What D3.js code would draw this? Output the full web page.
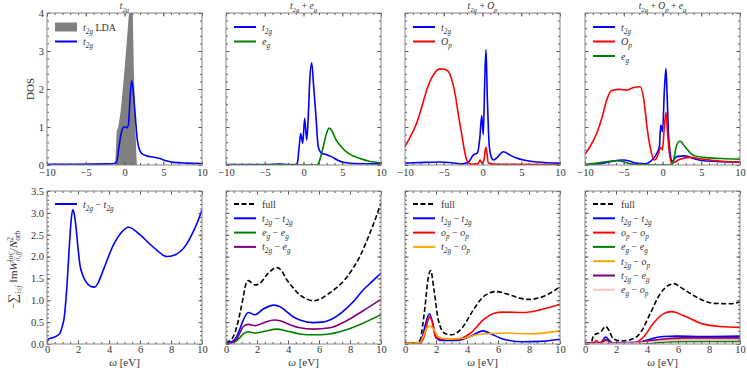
<!DOCTYPE html>
<html>
<head>
<meta charset="utf-8">
<script src="https://cdn.jsdelivr.net/npm/d3@7"></script>
<style>
  body { margin: 0; background: #fff; }
  svg, text { font-family: "Liberation Serif", "DejaVu Serif", serif; }
  text { fill: #333; white-space: pre; }
</style>
</head>
<body>
<div id="chart"></div>
<script>
// ---- data ----
const dosXTicks = [-10, -5, 0, 5, 10];
const dosYTicks = [0, 1, 2, 3, 4];
const wXTicks = [0, 2, 4, 6, 8, 10];
const wYTicks = [0, 0.5, 1, 1.5, 2, 2.5, 3, 3.5];

const topTitles = ["t_{2g}", "t_{2g} + e_{g}", "t_{2g} + O_{p}", "t_{2g} + O_{p} + e_{g}"];

// DOS panels [omega, dos]
const ldaT2g = [[-1.2,0],[-1.1,0.5],[-1.0,0.9],[-0.8,1.0],[-0.5,1.4],[-0.15,2.15],[0.2,3.0],[0.58,4.0],[0.75,4.6],[0.9,4.5],[1.06,4.0],[1.2,2.6],[1.4,1.0],[1.55,0.2],[1.6,0]];
const dos1T2g = [[-10,0.02],[-6,0.02],[-2,0.03],[-1.3,0.04],[-1.0,0.1],[-0.7,0.5],[-0.4,0.85],[-0.15,1.0],[0.1,1.0],[0.3,0.98],[0.5,1.05],[0.7,1.7],[0.93,2.22],[1.15,1.9],[1.35,1.4],[1.65,0.66],[1.9,0.42],[2.2,0.31],[2.86,0.24],[3.7,0.21],[4.58,0.17],[5.4,0.11],[6.3,0.07],[8,0.05],[10,0.04]];

const dos2T2g = [[-10,0.01],[-5,0.01],[-3.5,0.02],[-3,0.025],[-2,0.01],[-1,0.01],[-0.8,0.05],[-0.55,0.5],[-0.36,0.83],[-0.1,0.57],[0.15,1.23],[0.41,0.66],[0.6,1.2],[0.8,2.2],[1.06,2.69],[1.3,2.1],[1.61,1.27],[1.9,0.48],[2.35,0.31],[3.0,0.27],[3.6,0.22],[4.3,0.14],[5.1,0.07],[6.5,0.04],[10,0.03]];
const dos2Eg = [[-10,0],[1.7,0],[1.9,0.03],[2.2,0.2],[2.55,0.48],[2.9,0.78],[3.3,0.97],[3.6,0.92],[4.2,0.66],[4.8,0.5],[5.5,0.35],[6.3,0.25],[7.2,0.18],[8.5,0.1],[10,0.06]];

const dos3T2g = [[-10,0.05],[-7.5,0.07],[-5.5,0.08],[-4,0.06],[-2.6,0.03],[-1.8,0.08],[-1.2,0.26],[-0.65,0.32],[-0.35,0.7],[-0.1,1.3],[0.1,0.8],[0.3,2.3],[0.45,3.03],[0.62,1.8],[0.88,0.48],[1.15,0.2],[1.4,0.13],[1.9,0.2],[2.7,0.35],[3.55,0.26],[4.3,0.19],[5.3,0.13],[7,0.08],[10,0.05]];
const dos3Op = [[-10,0.48],[-9.3,0.75],[-8.5,1.1],[-7.8,1.55],[-7.2,1.97],[-6.4,2.35],[-5.5,2.53],[-4.9,2.52],[-4.4,2.46],[-3.9,2.2],[-3.55,1.89],[-3.1,1.3],[-2.7,0.83],[-2.3,0.35],[-2.04,0.13],[-1.7,0.04],[-1.4,0.02],[-0.6,0.03],[-0.3,0.13],[-0.1,0.05],[0.15,0.1],[0.45,0.47],[0.75,0.06],[1.2,0.03],[1.8,0.02],[10,0.01]];

const dos4T2g = [[-10,0.01],[-7.8,0.04],[-6.5,0.1],[-5.05,0.13],[-4.2,0.1],[-3.5,0.05],[-2.2,0.03],[-1.5,0.1],[-1,0.22],[-0.4,0.48],[-0.23,1.05],[0.0,0.88],[0.25,2.0],[0.45,2.54],[0.6,1.8],[0.77,0.83],[1.0,0.3],[1.2,0.09],[1.5,0.15],[1.85,0.22],[2.9,0.24],[4,0.17],[5.3,0.11],[7.5,0.09],[10,0.08]];
const dos4Op = [[-10,0.28],[-9.3,0.5],[-8.5,0.83],[-7.8,1.25],[-7.2,1.71],[-6.55,1.96],[-5.5,1.99],[-4.6,1.97],[-3.75,2.04],[-2.9,2.06],[-2.4,1.71],[-2.0,1.0],[-1.6,0.48],[-1.06,0.13],[-0.67,0.22],[-0.23,0.46],[0.0,0.4],[0.2,0.9],[0.45,1.39],[0.62,0.95],[0.8,0.48],[1.2,0.05],[1.6,0.08],[2.25,0.15],[3.55,0.2],[5.3,0.15],[7.5,0.1],[10,0.07]];
const dos4Eg = [[-10,0.01],[-7.8,0.07],[-5.9,0.11],[-4.8,0.07],[-4.2,0.03],[-3,0.005],[1.15,0],[1.4,0.1],[1.77,0.48],[2.25,0.63],[2.9,0.48],[3.97,0.26],[5.3,0.2],[7.6,0.17],[10,0.15]];

// screened interaction panels [omega, value]
const w1T2g = [[0,0.02],[0.09,0.11],[0.41,0.15],[0.7,0.2],[0.84,0.25],[1.0,0.42],[1.1,0.58],[1.27,1.24],[1.44,2.23],[1.55,2.8],[1.66,3.07],[1.77,2.95],[1.87,2.68],[2.0,2.2],[2.13,1.8],[2.3,1.58],[2.52,1.42],[2.8,1.32],[3.05,1.3],[3.3,1.4],[3.63,1.69],[4.28,2.26],[4.8,2.55],[5.25,2.67],[6.0,2.5],[6.5,2.33],[7.08,2.15],[7.72,2.0],[8.2,2.03],[8.58,2.11],[9.0,2.28],[9.34,2.5],[9.7,2.78],[10,3.07]];

const w2Full = [[0,0.02],[0.47,0.17],[0.7,0.4],[0.9,0.7],[1.1,1.05],[1.23,1.3],[1.44,1.45],[1.65,1.4],[1.87,1.35],[2.19,1.39],[2.73,1.62],[3.27,1.75],[3.6,1.67],[3.9,1.48],[4.3,1.3],[4.77,1.12],[5.2,1.03],[5.63,0.99],[6.1,1.03],[6.49,1.12],[7.0,1.25],[7.56,1.43],[8.1,1.68],[8.63,2.0],[9.3,2.55],[10,3.22]];
const w2T2g = [[0,0.02],[0.4,0.06],[0.69,0.17],[0.9,0.35],[1.12,0.55],[1.44,0.72],[1.87,0.67],[2.4,0.8],[3.1,0.89],[3.5,0.85],[3.85,0.76],[4.3,0.63],[4.77,0.55],[5.63,0.49],[6.2,0.5],[6.7,0.55],[7.2,0.65],[7.72,0.8],[8.3,1.0],[8.8,1.22],[9.4,1.42],[10,1.62]];
const w2EgEg = [[0,0.01],[0.4,0.03],[0.7,0.08],[0.9,0.15],[1.12,0.23],[1.44,0.28],[1.87,0.25],[2.5,0.29],[3.27,0.34],[4.0,0.29],[4.77,0.23],[5.63,0.21],[6.7,0.23],[7.72,0.32],[8.8,0.47],[10,0.67]];
const w2T2gEg = [[0,0.01],[0.4,0.04],[0.7,0.12],[0.9,0.26],[1.12,0.4],[1.44,0.45],[1.87,0.42],[2.4,0.48],[3.1,0.55],[3.6,0.52],[4.2,0.43],[4.77,0.37],[5.63,0.34],[6.7,0.37],[7.72,0.52],[8.8,0.75],[10,1.02]];

const w3Full = [[0,0.03],[0.4,0.02],[0.75,0.02],[0.97,0.09],[1.15,0.45],[1.29,0.85],[1.51,1.54],[1.66,1.68],[1.87,1.24],[2.15,0.55],[2.58,0.24],[3.01,0.21],[3.66,0.36],[4.41,0.78],[5.05,1.08],[5.87,1.2],[6.77,1.12],[7.4,1.05],[8.06,1.02],[8.6,1.05],[9.14,1.12],[10,1.31]];
const w3T2g = [[0,0.04],[0.4,0.01],[0.97,0.04],[1.15,0.2],[1.29,0.41],[1.57,0.69],[1.79,0.48],[2.0,0.14],[2.37,0.08],[3.3,0.08],[4.2,0.17],[5.05,0.3],[5.5,0.24],[6.35,0.11],[7.63,0.05],[8.7,0.06],[10,0.11]];
const w3OpOp = [[0,0.02],[0.97,0.02],[1.15,0.1],[1.29,0.24],[1.45,0.5],[1.57,0.62],[1.72,0.55],[1.97,0.17],[2.37,0.11],[3.3,0.11],[4.2,0.24],[5.05,0.55],[5.7,0.7],[6.35,0.73],[7.63,0.72],[8.7,0.78],[10,0.91]];
const w3T2gOp = [[0,0.02],[0.97,0.03],[1.15,0.15],[1.29,0.28],[1.57,0.41],[1.79,0.37],[2.15,0.17],[2.7,0.11],[3.75,0.13],[4.63,0.21],[5.5,0.24],[6.77,0.25],[8.06,0.23],[10,0.3]];

const w4Full = [[0,0.02],[0.39,0.03],[0.56,0.2],[1.0,0.27],[1.33,0.4],[1.55,0.31],[1.82,0.12],[2.3,0.07],[2.95,0.1],[3.6,0.27],[4.2,0.69],[4.85,1.15],[5.5,1.36],[5.75,1.38],[6.15,1.3],[7.2,1.07],[8.3,0.93],[9.35,0.92],[10,0.96]];
const w4T2g = [[0,0.01],[1.0,0.02],[1.33,0.16],[1.55,0.09],[1.75,0.03],[3.4,0.04],[4.2,0.11],[5.05,0.17],[5.9,0.18],[7.6,0.17],[10,0.18]];
const w4OpOp = [[0,0.01],[0.55,0.02],[0.73,0.08],[0.95,0.02],[1.2,0.09],[1.4,0.04],[1.85,0.02],[3.1,0.02],[3.8,0.17],[4.4,0.47],[5.05,0.69],[5.6,0.74],[6.35,0.65],[7.6,0.46],[8.7,0.4],[10,0.38]];
const w4EgEg = [[0,0],[1.1,0.01],[1.35,0.05],[1.6,0.01],[3.5,0.01],[4.5,0.03],[5.5,0.05],[6.5,0.06],[8,0.06],[10,0.06]];
const w4T2gOp = [[0,0],[1.0,0.01],[1.35,0.06],[1.7,0.02],[3,0.02],[4.0,0.06],[5.0,0.1],[6,0.11],[8,0.11],[10,0.11]];
const w4T2gEg = [[0,0],[1.0,0.02],[1.35,0.1],[1.7,0.03],[3.4,0.03],[4.3,0.08],[5.3,0.12],[6.3,0.14],[8,0.14],[10,0.14]];
const w4EgOp = [[0,0],[1.1,0.01],[1.35,0.04],[1.7,0.01],[3.5,0.02],[4.5,0.05],[5.5,0.08],[7,0.09],[10,0.09]];

// ---- layout ----
const width = 747, height = 372;
const colLeft = [47, 226, 405, 585];
const panelW = 155;
const rowTop = { dos: [13, 165], w: [191, 344] };
const serif = '"Liberation Serif", "DejaVu Serif", serif';

const svg = d3.select("#chart").append("svg")
  .attr("width", width).attr("height", height)
  .attr("viewBox", [0, 0, width, height])
  .attr("font-family", serif);

// writes "t_{2g} − e_{g}" style labels as tspans
function mathText(sel, str, size) {
  const re = /([A-Za-z])_\{([^}]*)\}/g;
  let last = 0, m, shift = 0;
  const add = (t, italic, fs, dy) => {
    const ts = sel.append("tspan").text(t);
    if (italic) ts.attr("font-style", "italic");
    if (fs) ts.attr("font-size", fs);
    if (dy) ts.attr("dy", dy);
  };
  while ((m = re.exec(str))) {
    if (m.index > last) { add(str.slice(last, m.index), false, null, -shift); shift = 0; }
    add(m[1], true, null, -shift);
    add(m[2], true, size * 0.72, size * 0.3);
    shift = size * 0.3;
    last = re.lastIndex;
  }
  if (last < str.length) add(str.slice(last), false, null, -shift);
}

const line = (x, y) => d3.line().x(d => x(d[0])).y(d => y(d[1])).curve(d3.curveMonotoneX);

function frameAxes(g, x, y, xt, xMinor, yt, yMinor, showY, yFmt, pad) {
  const [x0, x1] = x.range(), [yb, yt0] = y.range();
  const tickStyle = a => {
    a.attr("font-family", serif);
    a.select(".domain").remove();
    a.selectAll("line").attr("stroke", "#555");
    a.selectAll("text").attr("font-size", 10.5).attr("fill", "#333");
  };
  g.append("g").attr("transform", `translate(0,${yb})`)
    .call(d3.axisBottom(x).tickValues(xMinor).tickSize(-2).tickFormat("")).call(tickStyle);
  g.append("g").attr("transform", `translate(0,${yb})`)
    .call(d3.axisBottom(x).tickValues(xt).tickSize(-3.5).tickPadding(pad)).call(tickStyle);
  g.append("g").attr("transform", `translate(0,${yt0})`)
    .call(d3.axisTop(x).tickValues(xMinor).tickSize(-2).tickFormat("")).call(tickStyle);
  g.append("g").attr("transform", `translate(0,${yt0})`)
    .call(d3.axisTop(x).tickValues(xt).tickSize(-3.5).tickFormat("")).call(tickStyle);
  g.append("g").attr("transform", `translate(${x0},0)`)
    .call(d3.axisLeft(y).tickValues(yMinor).tickSize(-2).tickFormat("")).call(tickStyle);
  g.append("g").attr("transform", `translate(${x0},0)`)
    .call(d3.axisLeft(y).tickValues(yt).tickSize(-3.5).tickPadding(3).tickFormat(showY ? yFmt : "")).call(tickStyle);
  g.append("g").attr("transform", `translate(${x1},0)`)
    .call(d3.axisRight(y).tickValues(yMinor).tickSize(-2).tickFormat("")).call(tickStyle);
  g.append("g").attr("transform", `translate(${x1},0)`)
    .call(d3.axisRight(y).tickValues(yt).tickSize(-3.5).tickFormat("")).call(tickStyle);
  g.append("rect").attr("x", x0).attr("y", yt0).attr("width", x1 - x0).attr("height", yb - yt0)
    .attr("fill", "none").attr("stroke", "#888").attr("stroke-width", 1);
}

function legend(g, x0, y0, step, items) {
  items.forEach((it, i) => {
    const yy = y0 + i * step;
    if (it.patch) {
      g.append("rect").attr("x", x0 + 8).attr("y", yy - 4.5).attr("width", 22).attr("height", 9).attr("fill", it.color);
    } else {
      g.append("line").attr("x1", x0 + 8).attr("x2", x0 + 30).attr("y1", yy).attr("y2", yy)
        .attr("stroke", it.color).attr("stroke-width", 2)
        .attr("stroke-dasharray", it.dash ? "5,2.5" : null);
    }
    const t = g.append("text").attr("x", x0 + 36).attr("y", yy + 3.5).attr("font-size", 10);
    mathText(t, it.label, 10);
  });
}

const blue = "#0000ff", green = "#008000", red = "#ff0000", purple = "#800080", orange = "#ffa500", pink = "#ffc0cb";

const dosPanels = [
  { series: [{ d: dos1T2g, color: blue, label: "t_{2g}" }], fill: ldaT2g },
  { series: [{ d: dos2T2g, color: blue, label: "t_{2g}" }, { d: dos2Eg, color: green, label: "e_{g}" }] },
  { series: [{ d: dos3T2g, color: blue, label: "t_{2g}" }, { d: dos3Op, color: red, label: "O_{p}" }] },
  { series: [{ d: dos4T2g, color: blue, label: "t_{2g}" }, { d: dos4Op, color: red, label: "O_{p}" }, { d: dos4Eg, color: green, label: "e_{g}" }] }
];

const wPanels = [
  [{ d: w1T2g, color: blue, label: "t_{2g} − t_{2g}" }],
  [{ d: w2Full, color: "#000", dash: true, label: "full" }, { d: w2T2g, color: blue, label: "t_{2g} − t_{2g}" },
   { d: w2EgEg, color: green, label: "e_{g} − e_{g}" }, { d: w2T2gEg, color: purple, label: "t_{2g} − e_{g}" }],
  [{ d: w3Full, color: "#000", dash: true, label: "full" }, { d: w3T2g, color: blue, label: "t_{2g} − t_{2g}" },
   { d: w3OpOp, color: red, label: "o_{p} − o_{p}" }, { d: w3T2gOp, color: orange, label: "t_{2g} − o_{p}" }],
  [{ d: w4Full, color: "#000", dash: true, label: "full" }, { d: w4T2g, color: blue, label: "t_{2g} − t_{2g}" },
   { d: w4OpOp, color: red, label: "o_{p} − o_{p}" }, { d: w4EgEg, color: green, label: "e_{g} − e_{g}" },
   { d: w4T2gOp, color: orange, label: "t_{2g} − o_{p}" }, { d: w4T2gEg, color: purple, label: "t_{2g} − e_{g}" },
   { d: w4EgOp, color: pink, label: "e_{g} − o_{p}" }]
];

const dosMinorX = d3.range(-10, 10.01, 1);
const dosMinorY = d3.range(0, 4.01, 0.2);
const wMinorX = d3.range(0, 10.01, 0.5);
const wMinorY = d3.range(0, 3.51, 0.1);

// ---- top row: DOS ----
dosPanels.forEach((p, i) => {
  const x = d3.scaleLinear().domain([-10, 10]).range([colLeft[i], colLeft[i] + panelW]);
  const y = d3.scaleLinear().domain([0, 4]).range([rowTop.dos[1], rowTop.dos[0]]);
  const g = svg.append("g");
  const clipId = "clipd" + i;
  g.append("clipPath").attr("id", clipId).append("rect")
    .attr("x", colLeft[i]).attr("y", rowTop.dos[0]).attr("width", panelW).attr("height", rowTop.dos[1] - rowTop.dos[0]);
  const body = g.append("g").attr("clip-path", `url(#${clipId})`);
  if (p.fill) {
    body.append("path").datum(p.fill)
      .attr("d", d3.area().x(d => x(d[0])).y0(y(0)).y1(d => y(d[1])))
      .attr("fill", "#808080");
  }
  p.series.forEach(s => {
    body.append("path").datum(s.d).attr("d", line(x, y)).attr("fill", "none")
      .attr("stroke", s.color).attr("stroke-width", 1.6);
  });
  frameAxes(g, x, y, dosXTicks, dosMinorX, dosYTicks, dosMinorY, i === 0, d3.format("d"), 3.5);
  const items = (p.fill ? [{ patch: true, color: "#808080", label: "t_{2g} LDA" }] : []).concat(p.series);
  legend(g, colLeft[i], rowTop.dos[0] + 14, 14.5, items);
  const t = g.append("text").attr("x", colLeft[i] + panelW / 2).attr("y", 9).attr("text-anchor", "middle").attr("font-size", 9.5);
  mathText(t, topTitles[i], 9.5);
});

// ---- bottom row: screened interaction ----
wPanels.forEach((series, i) => {
  const x = d3.scaleLinear().domain([0, 10]).range([colLeft[i], colLeft[i] + panelW]);
  const y = d3.scaleLinear().domain([0, 3.5]).range([rowTop.w[1], rowTop.w[0]]);
  const g = svg.append("g");
  const clipId = "clipw" + i;
  g.append("clipPath").attr("id", clipId).append("rect")
    .attr("x", colLeft[i]).attr("y", rowTop.w[0]).attr("width", panelW).attr("height", rowTop.w[1] - rowTop.w[0]);
  const body = g.append("g").attr("clip-path", `url(#${clipId})`);
  series.forEach(s => {
    body.append("path").datum(s.d).attr("d", line(x, y)).attr("fill", "none")
      .attr("stroke", s.color).attr("stroke-width", 1.6)
      .attr("stroke-dasharray", s.dash ? "5,2.5" : null);
  });
  frameAxes(g, x, y, wXTicks, wMinorX, wYTicks, wMinorY, i === 0, d3.format(".1f"), 2);
  legend(g, colLeft[i], rowTop.w[0] + 13, 14.3, series);
  const xl = g.append("text").attr("x", colLeft[i] + panelW / 2).attr("y", 366).attr("text-anchor", "middle").attr("font-size", 11);
  xl.append("tspan").attr("font-style", "italic").text("ω");
  xl.append("tspan").text(" [eV]");
});

// ---- y labels ----
svg.append("text").attr("transform", "translate(34,89) rotate(-90)")
  .attr("text-anchor", "middle").attr("font-size", 11).text("DOS");

const yl = svg.append("text").attr("transform", "translate(17,270) rotate(-90)")
  .attr("text-anchor", "middle").attr("font-size", 11);
yl.append("tspan").text("−");
yl.append("tspan").attr("font-size", 13).text("∑");
yl.append("tspan").attr("font-size", 7.5).attr("font-style", "italic").attr("dy", 3.5).text("i≤j");
yl.append("tspan").attr("dy", -3.5).text(" Im");
yl.append("tspan").attr("font-style", "italic").text("W");
const sup1 = yl.append("tspan").attr("font-size", 7.5).attr("dy", -4).text("loc");
const sub1 = yl.append("tspan").attr("font-size", 7.5).attr("font-style", "italic").attr("dy", 7).text("ii,jj");
yl.append("tspan").attr("dy", -3).text("/");
yl.append("tspan").attr("font-style", "italic").text("N");
const sup2 = yl.append("tspan").attr("font-size", 7.5).attr("dy", -4).text("2");
const sub2 = yl.append("tspan").attr("font-size", 7.5).attr("dy", 7).text("orb");
yl.append("tspan").attr("dy", -3).text("");
sub1.attr("dx", -sup1.node().getComputedTextLength());
sub2.attr("dx", -sup2.node().getComputedTextLength());
</script>
</body>
</html>
